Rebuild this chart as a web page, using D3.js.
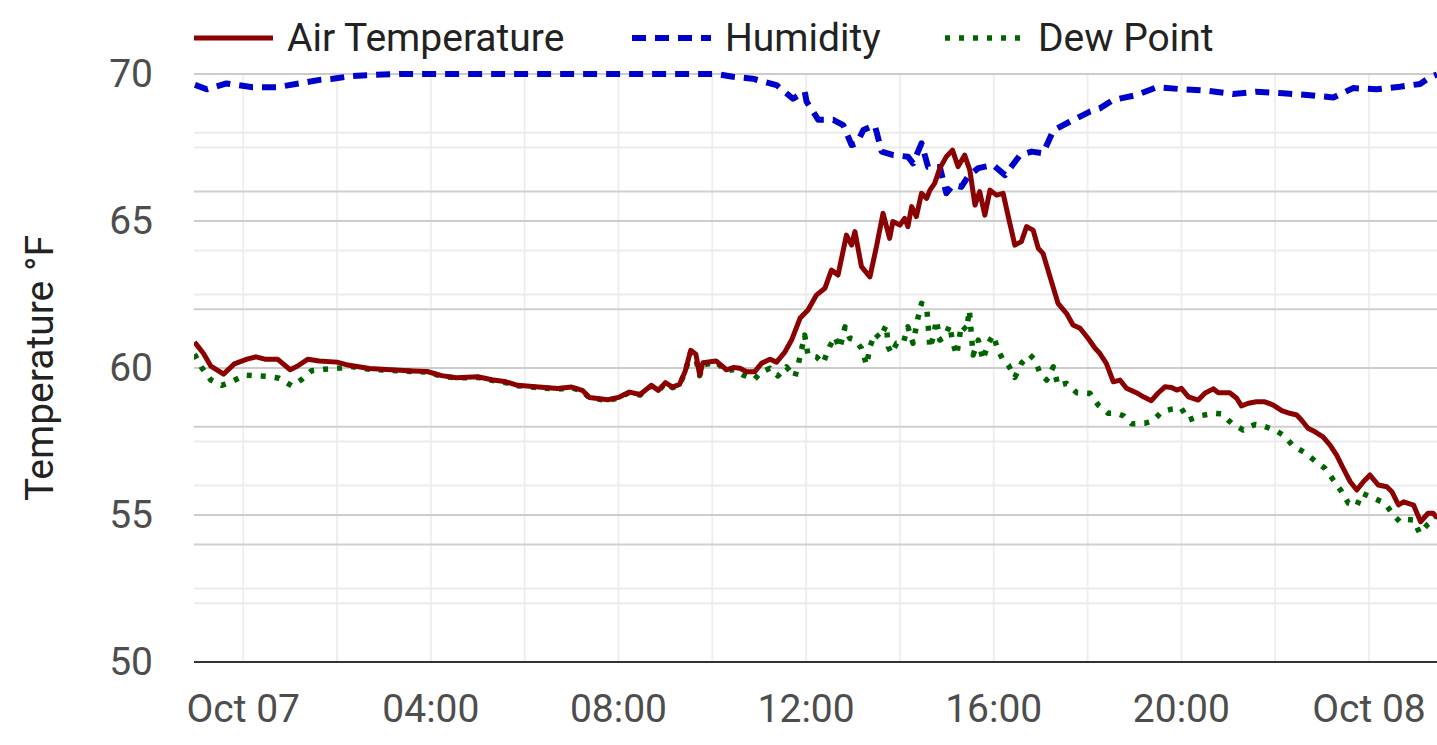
<!DOCTYPE html>
<html><head><meta charset="utf-8">
<script src="https://cdn.jsdelivr.net/npm/d3@7"></script>
<style>
html,body{margin:0;padding:0;background:#fff;}
svg{display:block;font-family:Roboto,"Noto Sans",sans-serif;}
</style></head>
<body><svg id="c" width="1437" height="745"></svg>
<script>
// ---- DATA (hours since Oct 07 00:00, value) ----
const seriesNames = ["Air Temperature", "Humidity", "Dew Point"];
const xTickHours = [0, 4, 8, 12, 16, 20, 24];
const yTicks = [50, 55, 60, 65, 70];
const humidityTicks = [50, 60, 70, 80, 90, 100];

const tempHours = [-1.04,-0.95,-0.85,-0.69,-0.42,-0.19,0.08,0.27,0.46,0.73,1.0,1.15,1.38,1.62,2.0,2.23,2.69,3.15,3.62,3.92,4.23,4.54,5.0,5.3,5.6,5.85,6.3,6.7,7.0,7.23,7.38,7.77,8.0,8.23,8.46,8.7,8.85,9.0,9.15,9.3,9.42,9.54,9.65,9.73,9.8,10.08,10.3,10.46,10.59,10.73,10.9,11.05,11.23,11.37,11.55,11.69,11.87,12.04,12.22,12.4,12.54,12.68,12.86,12.97,13.04,13.18,13.36,13.5,13.64,13.78,13.85,14.0,14.1,14.17,14.25,14.35,14.46,14.57,14.64,14.74,14.85,14.99,15.12,15.24,15.38,15.49,15.6,15.7,15.81,15.92,16.06,16.2,16.31,16.45,16.59,16.7,16.84,16.95,17.05,17.2,17.37,17.55,17.69,17.84,18.01,18.16,18.26,18.4,18.55,18.69,18.83,19.04,19.19,19.36,19.5,19.65,19.79,19.9,20.0,20.15,20.36,20.5,20.68,20.79,21.03,21.18,21.28,21.43,21.6,21.78,21.96,22.14,22.31,22.46,22.56,22.7,22.85,23.02,23.17,23.31,23.45,23.6,23.74,23.88,24.02,24.2,24.38,24.49,24.63,24.74,24.95,25.1,25.26,25.37,25.45];
const tempValues = [60.88,60.7,60.5,60.06,59.79,60.14,60.3,60.38,60.3,60.3,59.94,60.06,60.3,60.24,60.2,60.1,59.98,59.94,59.9,59.88,59.74,59.67,59.7,59.6,59.53,59.41,59.35,59.3,59.35,59.24,59.0,58.92,59.0,59.18,59.1,59.41,59.24,59.5,59.35,59.44,59.88,60.6,60.47,59.76,60.18,60.24,59.94,60.02,59.99,59.87,59.87,60.16,60.3,60.2,60.55,60.95,61.69,61.97,62.48,62.71,63.33,63.16,64.52,64.18,64.64,63.45,63.1,64.13,65.26,64.41,64.98,64.86,65.09,64.81,65.49,65.15,65.94,65.77,66.05,66.28,66.79,67.19,67.41,66.85,67.24,66.73,65.54,66.0,65.2,66.05,65.88,65.94,65.15,64.18,64.3,64.81,64.69,64.07,63.9,63.1,62.2,61.86,61.46,61.35,61.01,60.67,60.5,60.16,59.53,59.59,59.31,59.16,59.02,58.89,59.14,59.36,59.34,59.25,59.31,59.02,58.91,59.14,59.29,59.16,59.16,58.97,58.71,58.8,58.85,58.85,58.74,58.55,58.46,58.4,58.23,57.95,57.83,57.66,57.38,57.04,56.59,56.13,55.85,56.13,56.36,56.02,55.96,55.79,55.34,55.45,55.34,54.77,55.06,55.06,54.9];

const dewHours = [-1.04,-0.88,-0.69,-0.46,-0.23,0.04,0.31,0.54,0.77,1.04,1.23,1.46,1.73,2.08,2.3,2.69,3.15,3.62,3.92,4.23,4.54,5.0,5.3,5.6,5.85,6.3,6.7,7.0,7.23,7.38,7.77,8.0,8.23,8.46,8.7,8.85,9.0,9.15,9.3,9.42,9.54,9.65,9.73,9.8,10.08,10.3,10.46,10.66,10.9,11.05,11.23,11.4,11.58,11.76,11.83,11.97,12.04,12.22,12.36,12.5,12.61,12.72,12.83,12.93,13.04,13.18,13.29,13.36,13.47,13.57,13.71,13.75,13.82,13.93,14.07,14.17,14.28,14.39,14.46,14.57,14.64,14.71,14.78,14.85,14.96,15.06,15.13,15.21,15.31,15.42,15.48,15.56,15.67,15.77,15.88,15.99,16.09,16.2,16.31,16.45,16.59,16.77,16.88,16.98,17.13,17.27,17.37,17.55,17.77,18.05,18.23,18.44,18.62,18.77,18.94,19.22,19.4,19.58,19.79,20.0,20.15,20.39,20.68,20.86,21.07,21.32,21.57,21.74,21.99,22.2,22.38,22.63,22.85,23.06,23.24,23.42,23.56,23.74,23.85,24.1,24.34,24.52,24.66,24.8,24.95,25.08,25.24,25.37,25.45];
const dewValues = [60.47,60.0,59.59,59.41,59.55,59.76,59.73,59.71,59.65,59.39,59.59,59.91,59.96,60.0,60.05,59.96,59.92,59.88,59.86,59.72,59.66,59.68,59.58,59.5,59.4,59.33,59.28,59.33,59.22,58.98,58.9,58.98,59.16,59.08,59.39,59.22,59.48,59.33,59.42,59.85,60.55,60.3,59.74,60.1,60.2,59.9,59.95,59.76,59.62,59.87,59.99,59.73,60.04,59.7,60.1,61.12,60.44,60.38,60.16,60.72,61.06,60.67,61.4,61.01,60.95,60.67,60.1,60.72,61.18,61.01,61.46,60.72,60.5,60.84,60.84,61.4,60.84,61.74,62.2,62.09,60.67,61.06,61.63,60.95,61.06,61.46,60.84,60.44,61.46,61.29,61.97,60.44,60.95,60.27,60.84,61.12,60.61,60.27,60.1,59.68,60.16,60.45,60.27,59.85,59.59,60.04,59.4,59.48,59.16,59.14,58.74,58.46,58.46,58.37,58.1,58.12,58.21,58.51,58.6,58.63,58.23,58.37,58.46,58.44,58.12,57.89,58.08,58.03,57.89,57.69,57.35,57.12,56.84,56.59,56.19,55.79,55.4,55.31,55.74,55.57,55.4,55.0,54.77,54.85,54.83,54.38,54.66,54.83,54.94];

const humHours = [-1.03,-0.78,-0.36,0.2,0.71,1.2,1.63,1.91,2.27,2.63,3.34,5.0,7.0,9.0,10.1,10.44,10.86,11.37,11.72,11.97,12.01,12.26,12.58,12.79,12.97,13.08,13.22,13.46,13.5,13.61,13.86,14.17,14.28,14.46,14.6,14.85,14.99,15.13,15.31,15.45,15.67,15.99,16.24,16.56,16.81,17.05,17.27,17.62,18.05,18.26,18.55,19.04,19.47,20.04,20.54,21.1,21.6,22.17,22.74,23.24,23.66,24.16,24.66,25.09,25.3,25.45];
const humValues = [99.07,98.7,99.2,98.87,98.87,99.2,99.5,99.6,99.8,99.9,100,100,100,100,100,99.77,99.6,99.06,97.9,98.5,97.65,96.1,96.1,95.66,93.96,94.1,95.24,95.66,95.1,93.4,93.1,92.97,92.4,94.1,92.1,92.1,89.86,90.56,90.4,91.27,92.0,92.26,91.4,93.1,93.4,93.25,95.2,95.94,96.8,97.08,97.8,98.2,98.87,98.7,98.58,98.3,98.5,98.36,98.2,98.0,98.8,98.7,98.92,99.15,99.72,99.96];

// ---- LAYOUT ----
const W = 1437, H = 745;
const m = {left: 194, right: 1437, top: 74, bottom: 662};
const FS = 39;
const base = new Date(2023, 9, 7, 0, 0, 0);
const toDate = h => new Date(base.getTime() + h * 3600e3);

const x = d3.scaleTime().domain([toDate(-1.05), toDate(25.45)]).range([m.left, m.right]);
const y = d3.scaleLinear().domain([50, 70]).range([m.bottom, m.top]);
const yH = d3.scaleLinear().domain([50, 100]).range([m.bottom, m.top]);

const svg = d3.select("#c");
const g = svg.append("g");

// vertical grid every 2 hours
const vTicks = x.ticks(d3.timeHour.every(2));
g.selectAll(".vg").data(vTicks).join("line")
  .attr("x1", d => x(d)).attr("x2", d => x(d))
  .attr("y1", m.top).attr("y2", m.bottom)
  .attr("stroke", "#efefef").attr("stroke-width", 2);

// primary minor grid
const yMinor = d3.range(50, 70, 5).map(v => v + 2.5);
g.selectAll(".ymn").data(yMinor).join("line")
  .attr("x1", m.left).attr("x2", m.right)
  .attr("y1", d => y(d)).attr("y2", d => y(d))
  .attr("stroke", "#ebebeb").attr("stroke-width", 2);
// secondary minor grid
const hMinor = d3.range(50, 100, 10).map(v => v + 5);
g.selectAll(".hmn").data(hMinor).join("line")
  .attr("x1", m.left).attr("x2", m.right)
  .attr("y1", d => yH(d)).attr("y2", d => yH(d))
  .attr("stroke", "#ebebeb").attr("stroke-width", 2);
// secondary major grid
g.selectAll(".hmj").data(humidityTicks.slice(1, -1)).join("line")
  .attr("x1", m.left).attr("x2", m.right)
  .attr("y1", d => yH(d)).attr("y2", d => yH(d))
  .attr("stroke", "#cfcfcf").attr("stroke-width", 2);
// primary major grid
g.selectAll(".ymj").data(yTicks.slice(1)).join("line")
  .attr("x1", m.left).attr("x2", m.right)
  .attr("y1", d => y(d)).attr("y2", d => y(d))
  .attr("stroke", "#cccccc").attr("stroke-width", 2);

// bottom axis line
g.append("line").attr("x1", m.left).attr("x2", m.right)
  .attr("y1", m.bottom).attr("y2", m.bottom)
  .attr("stroke", "#333").attr("stroke-width", 2);

// y tick labels
g.selectAll(".yl").data(yTicks).join("text")
  .attr("x", 153).attr("y", d => y(d))
  .attr("text-anchor", "end").attr("dominant-baseline", "central")
  .attr("fill", "#4d4d4d").attr("font-size", FS).text(d => d);

// x tick labels
const fmt = d => d.getHours() === 0 ? d3.timeFormat("%b %d")(d) : d3.timeFormat("%H:%M")(d);
g.selectAll(".xl").data(xTickHours.map(toDate)).join("text")
  .attr("x", d => x(d)).attr("y", 722)
  .attr("text-anchor", "middle")
  .attr("fill", "#4d4d4d").attr("font-size", FS).text(fmt);

// y axis title
g.append("text").attr("transform", "translate(53,368) rotate(-90)")
  .attr("text-anchor", "middle").attr("fill", "#222").attr("font-size", FS)
  .text("Temperature °F");

// clip
svg.append("clipPath").attr("id", "clip").append("rect")
  .attr("x", m.left).attr("y", m.top - 6).attr("width", m.right - m.left).attr("height", m.bottom - m.top + 6);

const line = d3.line().x(d => x(toDate(d[0]))).y(d => d[2](d[1]));
const mk = (hs, vs, sc) => hs.map((h, i) => [h, vs[i], sc]);

const styles = [
  {name: seriesNames[0], color: "#8b0000", width: 5, dash: null, pts: mk(tempHours, tempValues, y)},
  {name: seriesNames[1], color: "#0000cd", width: 6, dash: "14,9", pts: mk(humHours, humValues, yH)},
  {name: seriesNames[2], color: "#006400", width: 5.5, dash: "5,9", pts: mk(dewHours, dewValues, y)}
];
const lg = svg.append("g").attr("clip-path", "url(#clip)");
// draw order: humidity, dew, temp
[1, 2, 0].forEach(i => {
  const s = styles[i];
  lg.append("path").attr("d", line(s.pts)).attr("fill", "none")
    .attr("stroke", s.color).attr("stroke-width", s.width)
    .attr("stroke-dasharray", s.dash).attr("stroke-linejoin", "round");
});

// legend
const legX = [194, 632, 945];
styles.forEach((s, i) => {
  svg.append("line").attr("x1", legX[i]).attr("x2", legX[i] + 79)
    .attr("y1", 38).attr("y2", 38)
    .attr("stroke", s.color).attr("stroke-width", s.width).attr("stroke-dasharray", s.dash);
  svg.append("text").attr("x", legX[i] + 93).attr("y", 38)
    .attr("dominant-baseline", "central").attr("fill", "#222").attr("font-size", FS)
    .text(s.name);
});
</script></body></html>
